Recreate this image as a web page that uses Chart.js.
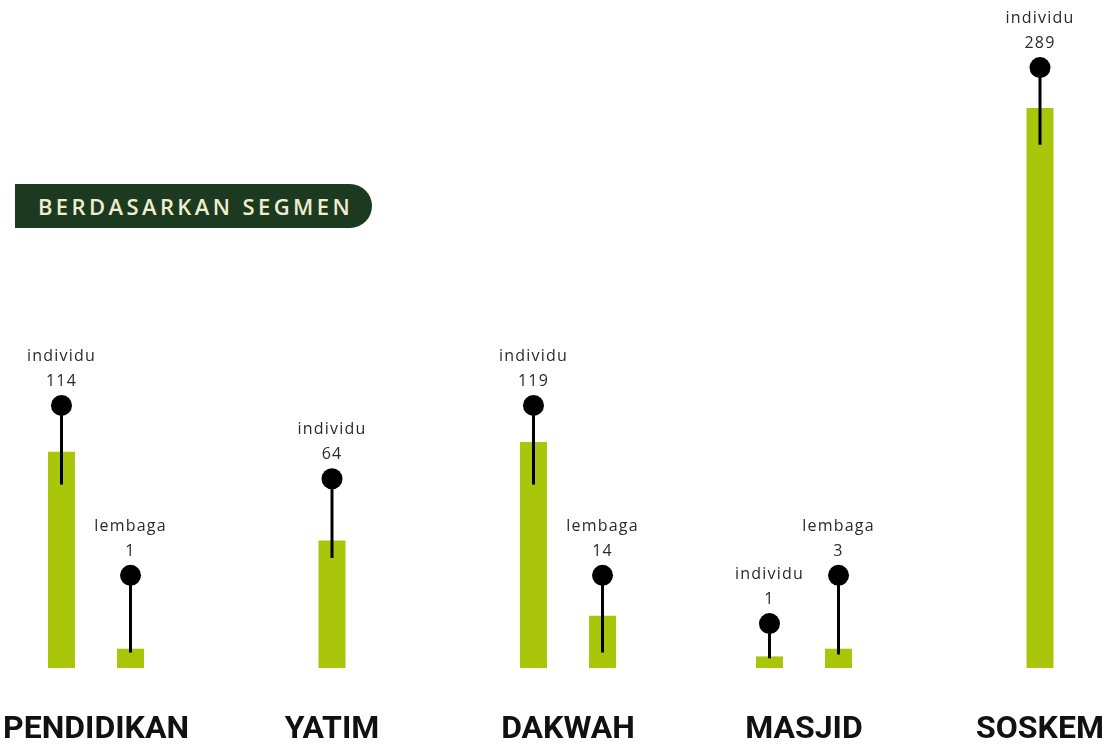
<!DOCTYPE html>
<html>
<head>
<meta charset="utf-8">
<script src="https://cdn.jsdelivr.net/npm/chart.js@4/dist/chart.umd.min.js"></script>
<style>
  html, body { margin: 0; padding: 0; background: #ffffff; overflow: hidden; }
  #wrap { position: relative; width: 1118px; height: 744px; overflow: hidden; }
  #c { position: absolute; left: 0; top: 0; }
  #pill {
    position: absolute; left: 15px; top: 184px; width: 357px; height: 44px;
    background: #1b3a20; border-radius: 0 22px 22px 0;
    color: #efecd0; font-family: "Open Sans", sans-serif; font-weight: 600;
    font-size: 22px; letter-spacing: 3.4px; line-height: 44px;
    text-align: center; box-sizing: border-box; padding-left: 4px;
  }
</style>
</head>
<body>
<div id="wrap">
  <canvas id="c" width="1118" height="746"></canvas>
  <div id="pill">BERDASARKAN SEGMEN</div>
</div>
<script>
// Categories
const categories = ["PENDIDIKAN", "YATIM", "DAKWAH", "MASJID", "SOSKEM"];
// Counts shown in the labels
const individuCounts = [114, 64, 119, 1, 289];
const lembagaCounts  = [1, null, 14, 3, null];
// Bar lengths as drawn in the picture (same scale units)
const individuBars = [112, 66, 117, 6, 290];
const lembagaBars  = [10, null, 27, 10, null];
// Lollipop heads and stick bottoms as drawn
const individuHeads = [136, 98, 136, 23, 311];
const individuStickBase = [95, 57, 95, 5, 271];
const lembagaHeads = [48, null, 48, 48, null];
const lembagaStickBase = [8, null, 8, 7, null];
const seriesNames = ["individu", "lembaga"];

const pair = (a, b) => a.map((v, i) => (v == null ? null : [v, b[i]]));

const lollipopPlugin = {
  id: 'lollipop',
  afterDatasetsDraw(chart) {
    const ctx = chart.ctx;
    const y = chart.scales.y;
    const sets = [
      { di: 2, heads: individuHeads, counts: individuCounts, name: seriesNames[0] },
      { di: 3, heads: lembagaHeads, counts: lembagaCounts, name: seriesNames[1] }
    ];
    ctx.save();
    sets.forEach(s => {
      const meta = chart.getDatasetMeta(s.di);
      meta.data.forEach((el, i) => {
        if (s.heads[i] == null) return;
        const px = el.x;
        const py = y.getPixelForValue(s.heads[i]);
        ctx.beginPath();
        ctx.fillStyle = '#000000';
        ctx.arc(px, py, 10.5, 0, Math.PI * 2);
        ctx.fill();
        ctx.fillStyle = '#2a2a2a';
        ctx.font = '16px "Open Sans", sans-serif';
        ctx.letterSpacing = '1.2px';
        ctx.textAlign = 'center';
        ctx.textBaseline = 'middle';
        ctx.fillText(s.name, px, py - 49);
        ctx.fillText(String(s.counts[i]), px, py - 24);
      });
    });
    ctx.restore();
  }
};

const barColor = '#a9c60b';

new Chart(document.getElementById('c'), {
  type: 'bar',
  data: {
    labels: categories,
    datasets: [
      { label: seriesNames[0], data: individuBars, stack: 'ind', backgroundColor: barColor, order: 2, clip: false },
      { label: seriesNames[1], data: lembagaBars, stack: 'lem', backgroundColor: barColor, order: 2, clip: false },
      { label: seriesNames[0] + ' stick', data: pair(individuStickBase, individuHeads), stack: 'ind', backgroundColor: '#000000', maxBarThickness: 3, order: 1, clip: false },
      { label: seriesNames[1] + ' stick', data: pair(lembagaStickBase, lembagaHeads), stack: 'lem', backgroundColor: '#000000', maxBarThickness: 3, order: 1, clip: false }
    ]
  },
  options: {
    responsive: false,
    animation: false,
    skipNull: true,
    categoryPercentage: 0.585,
    barPercentage: 1,
    maxBarThickness: 27,
    layout: { padding: { left: 96, right: 78, top: 0, bottom: 0 } },
    plugins: { legend: { display: false }, tooltip: { enabled: false }, title: { display: false } },
    scales: {
      x: {
        offset: false,
        grid: { display: false, drawTicks: true, tickLength: 46, color: 'rgba(0,0,0,0)' },
        border: { display: false },
        ticks: {
          padding: 0,
          color: '#111111',
          font: { family: 'Roboto', weight: 'bold', size: 32, lineHeight: 1 },
          maxRotation: 0, autoSkip: false
        }
      },
      y: {
        display: false,
        stacked: false,
        min: 0,
        max: 346,
        grid: { display: false }
      }
    }
  },
  plugins: [lollipopPlugin]
});
</script>
</body>
</html>
